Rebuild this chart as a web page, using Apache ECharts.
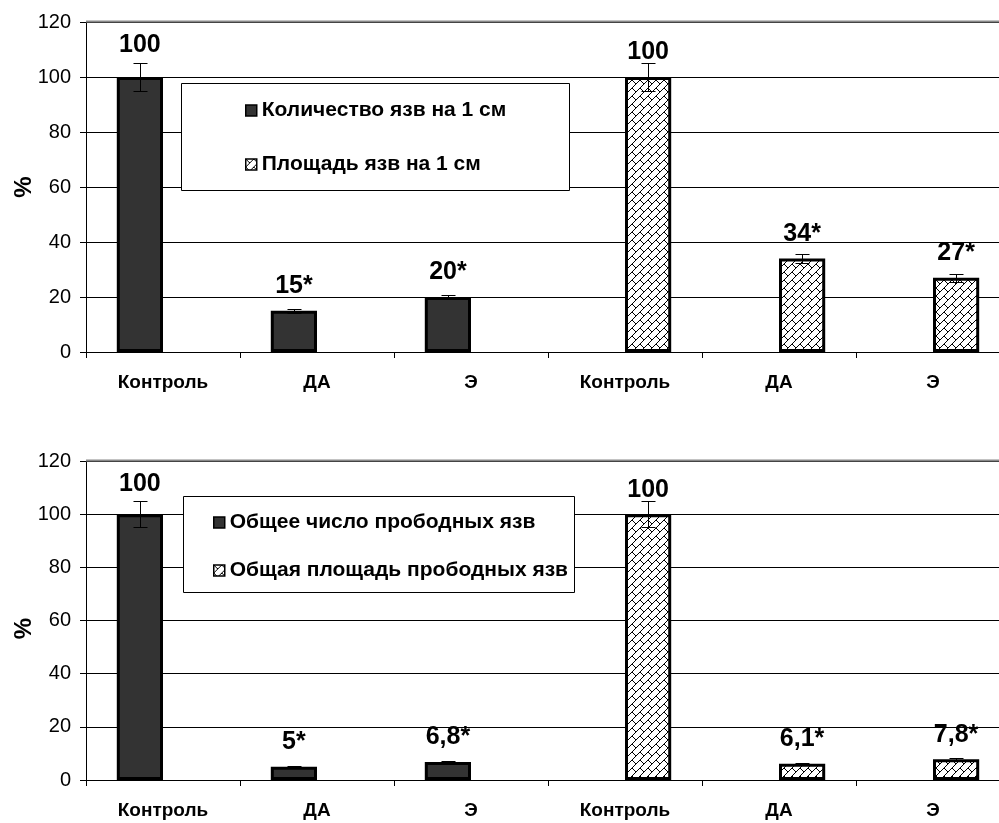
<!DOCTYPE html>
<html>
<head>
<meta charset="utf-8">
<script src="https://cdn.jsdelivr.net/npm/echarts@6/dist/echarts.min.js"></script>
<style>html,body{margin:0;padding:0;background:#fff;overflow:hidden}#c{width:1011px;height:823px}</style>
</head>
<body>
<div id="c"></div>
<script>
// ---- data ----
var categories = ['Контроль', 'ДА', 'Э', 'Контроль', 'ДА', 'Э'];
var yTicks = [0, 20, 40, 60, 80, 100, 120];

var topNames = ['Количество язв на 1 см', 'Площадь язв на 1 см'];
var topDark = [100, 15, 20, null, null, null];
var topHatch = [null, null, null, 100, 34, 27];
var topDarkErr = [5, 0.7, 0.8, null, null, null];
var topHatchErr = [null, null, null, 5, 1.5, 1.5];
var topDarkLbl = ['100', '15*', '20*', '', '', ''];
var topHatchLbl = ['', '', '', '100', '34*', '27*'];

var botNames = ['Общее число прободных язв', 'Общая площадь прободных язв'];
var botDark = [100, 5, 6.8, null, null, null];
var botHatch = [null, null, null, 100, 6.1, 7.8];
var botDarkErr = [5, 0.3, 0.4, null, null, null];
var botHatchErr = [null, null, null, 5, 0.3, 0.4];
var botDarkLbl = ['100', '5*', '6,8*', '', '', ''];
var botHatchLbl = ['', '', '', '100', '6,1*', '7,8*'];

// ---- styles ----
var FONT = 'Arial, "Liberation Sans", sans-serif';
function makePattern() {
  var c = document.createElement('canvas');
  c.width = 8; c.height = 8;
  var g = c.getContext('2d');
  g.fillStyle = '#fff'; g.fillRect(0, 0, 8, 8);
  g.strokeStyle = '#000'; g.lineWidth = 1;
  g.beginPath();
  g.moveTo(0, 8); g.lineTo(8, 0);
  g.moveTo(-1, 1); g.lineTo(1, -1);
  g.moveTo(7, 9); g.lineTo(9, 7);
  g.moveTo(0, 0); g.lineTo(4, 4);
  g.stroke();
  return c;
}
var hatch = { image: makePattern(), repeat: 'repeat' };
var dark = '#333333';

function barSeries(name, data, labels, color, gi, bigDist) {
  return {
    type: 'bar', name: name, xAxisIndex: gi, yAxisIndex: gi,
    data: data.map(function (v, i) {
      return {
        value: v,
        label: { distance: (v === 100 ? bigDist : 12) }
      };
    }),
    barGap: '0%', barCategoryGap: '40%',
    itemStyle: { color: color, borderColor: '#000', borderWidth: 3 },
    label: {
      show: true, position: 'top', color: '#000', fontSize: 25, fontWeight: 'bold', fontFamily: FONT,
      formatter: function (p) { return labels[p.dataIndex]; }
    },
    z: 2
  };
}
function errSeries(vals, errs, side, gi) {
  var d = [];
  vals.forEach(function (v, i) { if (v != null) d.push([i, v, errs[i], side]); });
  return {
    type: 'custom', xAxisIndex: gi, yAxisIndex: gi, z: 5, silent: true,
    data: d,
    renderItem: function (params, api) {
      var i = api.value(0), v = api.value(1), e = api.value(2), s = api.value(3);
      var cw = api.size([1, 0])[0];
      var base = api.coord([i, v]);
      var x = Math.round(base[0] + s * cw * 0.15) + 0.5;
      var yt = Math.round(api.coord([i, v + e])[1]) + 0.5;
      var yb = Math.round(api.coord([i, v - e])[1]) + 0.5;
      var st = { stroke: '#000', lineWidth: 1 };
      return {
        type: 'group', children: [
          { type: 'line', shape: { x1: x, y1: yt, x2: x, y2: yb }, style: st },
          { type: 'line', shape: { x1: x - 7, y1: yt, x2: x + 7, y2: yt }, style: st },
          { type: 'line', shape: { x1: x - 7, y1: yb, x2: x + 7, y2: yb }, style: st }
        ]
      };
    }
  };
}
function xAx(gi) {
  return {
    type: 'category', gridIndex: gi, data: categories,
    axisLine: { lineStyle: { color: '#000', width: 1 } },
    axisTick: { show: true, length: 6, lineStyle: { color: '#000' } },
    axisLabel: { color: '#000', fontSize: 19, fontWeight: 'bold', fontFamily: FONT, margin: 21 }
  };
}
function yAx(gi) {
  return {
    type: 'value', gridIndex: gi, min: yTicks[0], max: yTicks[yTicks.length - 1], interval: 20,
    name: '%', nameLocation: 'middle', nameGap: 50, nameRotate: 90, nameMoveOverlap: false,
    nameTextStyle: { color: '#000', fontSize: 24, fontWeight: 'bold', fontFamily: FONT,
      padding: gi === 1 ? [0, 16, 0, 0] : 0 },
    axisLine: { show: true, lineStyle: { color: '#000' } },
    axisTick: { show: true, length: 6, lineStyle: { color: '#000' } },
    axisLabel: { color: '#000', fontSize: 20, fontFamily: FONT, margin: 15 },
    splitLine: { show: true, lineStyle: { color: '#000', width: 1 } }
  };
}

var option = {
  animation: false,
  backgroundColor: '#fff',
  grid: [
    { left: 86, top: 22, width: 924, height: 330, outerBoundsMode: 'none', containLabel: false },
    { left: 86, top: 461, width: 924, height: 319, outerBoundsMode: 'none', containLabel: false }
  ],
  xAxis: [xAx(0), xAx(1)],
  yAxis: [yAx(0), yAx(1)],
  graphic: [
    { type: 'rect', shape: { x: 86, y: 21.5, width: 925, height: 0 }, style: { stroke: '#888', lineWidth: 2 }, z: 3 },
    { type: 'rect', shape: { x: 86, y: 460.5, width: 925, height: 0 }, style: { stroke: '#888', lineWidth: 2 }, z: 3 },
    { type: 'rect', shape: { x: 181.5, y: 83.5, width: 388, height: 107 }, style: { fill: '#fff', stroke: '#000', lineWidth: 1 }, z: 10 },
    { type: 'rect', shape: { x: 183.5, y: 496.5, width: 391, height: 96 }, style: { fill: '#fff', stroke: '#000', lineWidth: 1 }, z: 10 }
  ],
  legend: [
    {
      data: topNames, orient: 'vertical', left: 240, top: 95, itemGap: 33, z: 20,
      icon: 'rect', itemWidth: 11, itemHeight: 11,
      itemStyle: { borderColor: '#000', borderWidth: 1.5 },
      textStyle: { color: '#000', fontSize: 21, fontWeight: 'bold', fontFamily: FONT, padding: [0, 0, 0, 0] }
    },
    {
      data: botNames, orient: 'vertical', left: 208, top: 507, itemGap: 27, z: 20,
      icon: 'rect', itemWidth: 11, itemHeight: 11,
      itemStyle: { borderColor: '#000', borderWidth: 1.5 },
      textStyle: { color: '#000', fontSize: 21, fontWeight: 'bold', fontFamily: FONT, padding: [0, 0, 0, 0] }
    }
  ],
  series: [
    barSeries(topNames[0], topDark, topDarkLbl, dark, 0, 19),
    barSeries(topNames[1], topHatch, topHatchLbl, hatch, 0, 12),
    errSeries(topDark, topDarkErr, -1, 0),
    errSeries(topHatch, topHatchErr, 1, 0),
    barSeries(botNames[0], botDark, botDarkLbl, dark, 1, 18),
    barSeries(botNames[1], botHatch, botHatchLbl, hatch, 1, 12),
    errSeries(botDark, botDarkErr, -1, 1),
    errSeries(botHatch, botHatchErr, 1, 1)
  ]
};
var chart = echarts.init(document.getElementById('c'), null, { renderer: 'canvas' });
chart.setOption(option);
</script>
</body>
</html>
